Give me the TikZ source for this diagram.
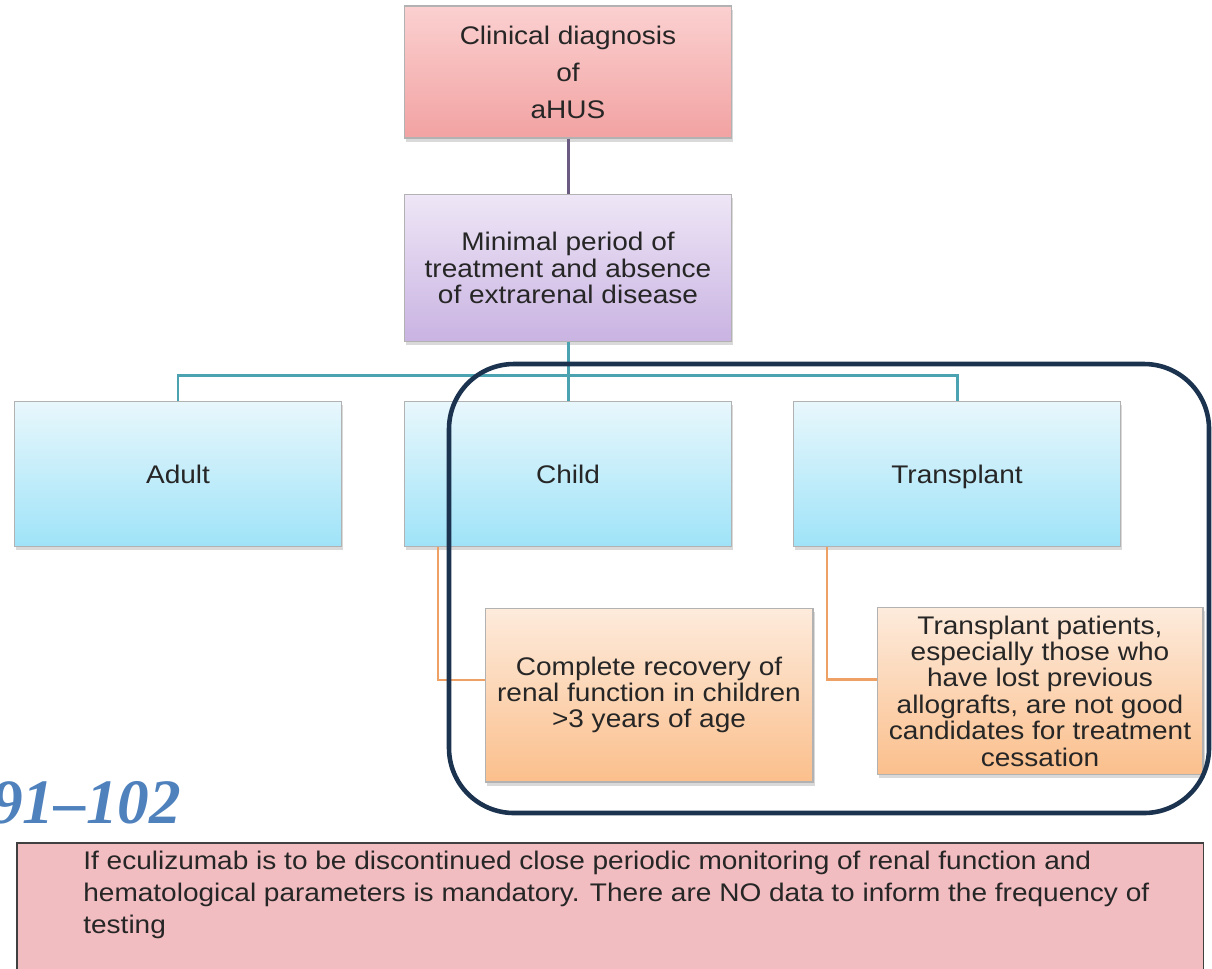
\documentclass[tikz,border=0pt]{standalone}
\usepackage{fontspec}
\setmainfont{Liberation Sans}[FakeStretch=1.1]
\newfontfamily\numfont{Liberation Serif}
\usetikzlibrary{shadows}

\definecolor{pinktop}{HTML}{FBD0D0}
\definecolor{pinkbot}{HTML}{F2A2A2}
\definecolor{lilactop}{HTML}{EEE6F6}
\definecolor{lilacbot}{HTML}{C9B3E2}
\definecolor{skytop}{HTML}{E8F7FC}
\definecolor{skybot}{HTML}{9FE3F8}
\definecolor{peachtop}{HTML}{FDEBDC}
\definecolor{peachbot}{HTML}{FBBF8C}
\definecolor{notepink}{HTML}{F2BDC1}
\definecolor{textgray}{HTML}{262626}
\definecolor{plumline}{HTML}{6B5B82}
\definecolor{tealline}{HTML}{4BA3B2}
\definecolor{orangeline}{HTML}{EFA064}
\definecolor{navy}{HTML}{1C3350}
\definecolor{refblue}{HTML}{4F81BD}

\begin{document}
\begin{tikzpicture}[x=0.02cm,y=-0.02cm]
  \useasboundingbox (0,0) rectangle (1212,968);

  \begin{scope}[every node/.style={draw=black!30,line width=0.6pt,minimum width=6.54cm,
      minimum height=2.9cm,align=center,text=textgray,font=\fontsize{14.5}{15}\selectfont,
      drop shadow={opacity=0.3,shadow xshift=1pt,shadow yshift=-2pt}}]
    \node[top color=pinktop,bottom color=pinkbot,minimum height=2.64cm,
      font=\fontsize{14.5}{21}\selectfont] (diag) at (568,72) {Clinical diagnosis\\of\\aHUS};
    \node[top color=lilactop,bottom color=lilacbot,minimum height=2.94cm] (period) at (568,268)
      {Minimal period of\\treatment and absence\\of extrarenal disease};
    \node[top color=skytop,bottom color=skybot,text depth=0pt] (adult) at (178,474) {Adult};
    \node[top color=skytop,bottom color=skybot,text depth=0pt] (child) at (568,474) {Child};
    \node[top color=skytop,bottom color=skybot,text depth=0pt] (transplant) at (957,474) {Transplant};
    \node[top color=peachtop,bottom color=peachbot,minimum width=6.56cm,minimum height=3.48cm]
      (recovery) at (649,695) {Complete recovery of\\renal function in children\\>3 years of age};
    \node[top color=peachtop,bottom color=peachbot,minimum width=6.52cm,minimum height=3.34cm]
      (cessation) at (1040,691) {Transplant patients,\\especially those who\\have lost previous\\
      allografts, are not good\\candidates for treatment\\cessation};
  \end{scope}

  \coordinate (fork) at (568,375);

  \draw[plumline,line width=1.7pt] (diag) -- (period);
  \draw[tealline,line width=1.7pt] (period) -- (child);
  \draw[tealline,line width=1.7pt] (adult.north) |- (fork) -| (transplant.north);

  \draw[orangeline,line width=1.5pt] ([xshift=0.68cm]child.south west)
    |- ([yshift=0.3cm]recovery.west);
  \draw[orangeline,line width=1.5pt] ([xshift=0.68cm]transplant.south west)
    |- ([yshift=0.23cm]cessation.west);

  % group frame
  \draw[navy,line width=2.6pt,rounded corners=1.3cm] (449,364) rectangle (1209,813);

  \node[anchor=base west,inner sep=0,text=refblue,
    font=\numfont\bfseries\itshape\fontsize{36}{40}\selectfont] (pages) at (-9,823) {91–102};

  \node[draw=black!75,line width=0.9pt,fill=notepink,anchor=north west,minimum width=23.74cm,
    minimum height=2.8cm] (note) at (16,842) {};
  \node[anchor=north west,inner sep=0,align=left,text=textgray,
    font=\fontsize{14.5}{18}\selectfont] (notetext) at (83,851)
    {If eculizumab is to be discontinued close periodic monitoring of renal function and\\
     hematological parameters is mandatory. There are NO data to inform the frequency of\\
     testing};
\end{tikzpicture}
\end{document}
